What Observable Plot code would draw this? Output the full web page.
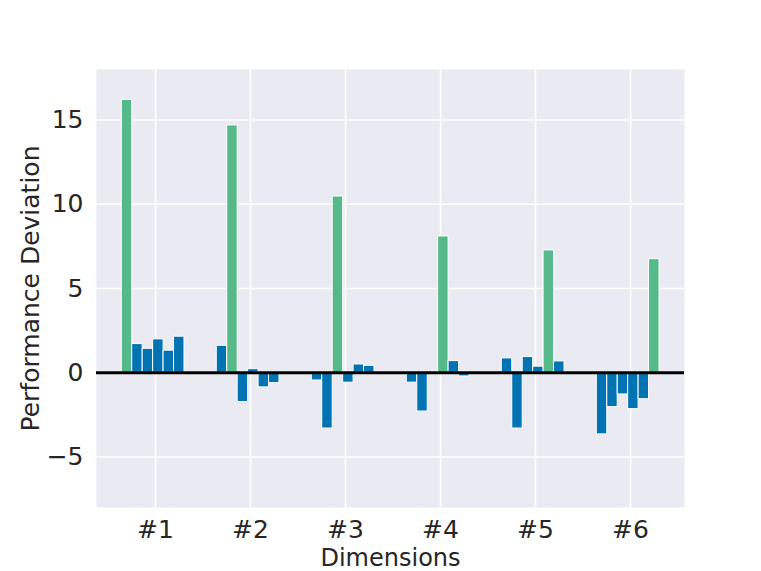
<!DOCTYPE html>
<html>
<head>
<meta charset="utf-8">
<script src="https://cdn.jsdelivr.net/npm/d3@7"></script>
<script src="https://cdn.jsdelivr.net/npm/@observablehq/plot@0.6"></script>
<style>
  html, body { margin: 0; padding: 0; background: #ffffff; }
  #chart { width: 761px; height: 571px; }
</style>
</head>
<body>
<div id="chart"></div>
<script>
// Tick labels / categories
const dimensions = ["#1", "#2", "#3", "#4", "#5", "#6"];
// Deviation values per group (six bars each); the bar at index == group index is highlighted
const group1 = [16.2, 1.70, 1.42, 1.98, 1.31, 2.14];
const group2 = [1.60, 14.68, -1.74, 0.21, -0.87, -0.62];
const group3 = [-0.46, -3.31, 10.46, -0.59, 0.49, 0.41];
const group4 = [-0.59, -2.30, 0.0, 8.09, 0.69, -0.22];
const group5 = [0.85, -3.31, 0.93, 0.36, 7.26, 0.67];
const group6 = [-3.66, -2.04, -1.29, -2.16, -1.57, 6.74];
const yTicks = [-5, 0, 5, 10, 15];

const groups = [group1, group2, group3, group4, group5, group6];
const barStep = 0.11, barStart = -0.3;
const data = groups.flatMap((vals, g) => vals.map((v, j) => ({g, j, v, hi: j === g})));

const chart = Plot.plot({
  width: 761,
  height: 571,
  marginLeft: 96,
  marginRight: 77,
  marginTop: 69,
  marginBottom: 64,
  style: {fontFamily: "DejaVu Sans", fontSize: "25px", color: "#262626", background: "#ffffff"},
  x: {type: "linear", domain: [-0.621, 5.568]},
  y: {domain: [-8, 18]},
  marks: [
    Plot.frame({fill: "#EAEAF2", stroke: null}),
    Plot.gridX([0, 1, 2, 3, 4, 5], {stroke: "#ffffff", strokeOpacity: 1, strokeWidth: 1.6}),
    Plot.gridY(yTicks, {stroke: "#ffffff", strokeOpacity: 1, strokeWidth: 1.6}),
    Plot.rectY(data, {
      x1: d => d.g + barStart + barStep * d.j - barStep / 2,
      x2: d => d.g + barStart + barStep * d.j + barStep / 2,
      y: "v",
      fill: d => d.hi ? "#55B98A" : "#0173B2",
      stroke: "#ffffff",
      strokeWidth: 1
    }),
    Plot.ruleY([0], {stroke: "#000000", strokeWidth: 3}),
    Plot.axisX([0, 1, 2, 3, 4, 5], {
      tickSize: 0, tickPadding: 12.5, fontSize: 25, label: null,
      tickFormat: i => dimensions[i]
    }),
    Plot.axisY(yTicks, {
      tickSize: 0, tickPadding: 13, fontSize: 25, label: null,
      tickFormat: d => d < 0 ? "\u2212" + Math.abs(d) : String(d)
    }),
    Plot.text(["Dimensions"], {
      frameAnchor: "bottom", dy: 51.1, fontSize: 24, lineAnchor: "middle", textAnchor: "middle", fill: "#262626"
    }),
    Plot.text(["Performance Deviation"], {
      frameAnchor: "left", dx: -66, rotate: -90, fontSize: 25, lineAnchor: "middle", textAnchor: "middle", fill: "#262626"
    })
  ]
});
document.getElementById("chart").appendChild(chart);
</script>
</body>
</html>
